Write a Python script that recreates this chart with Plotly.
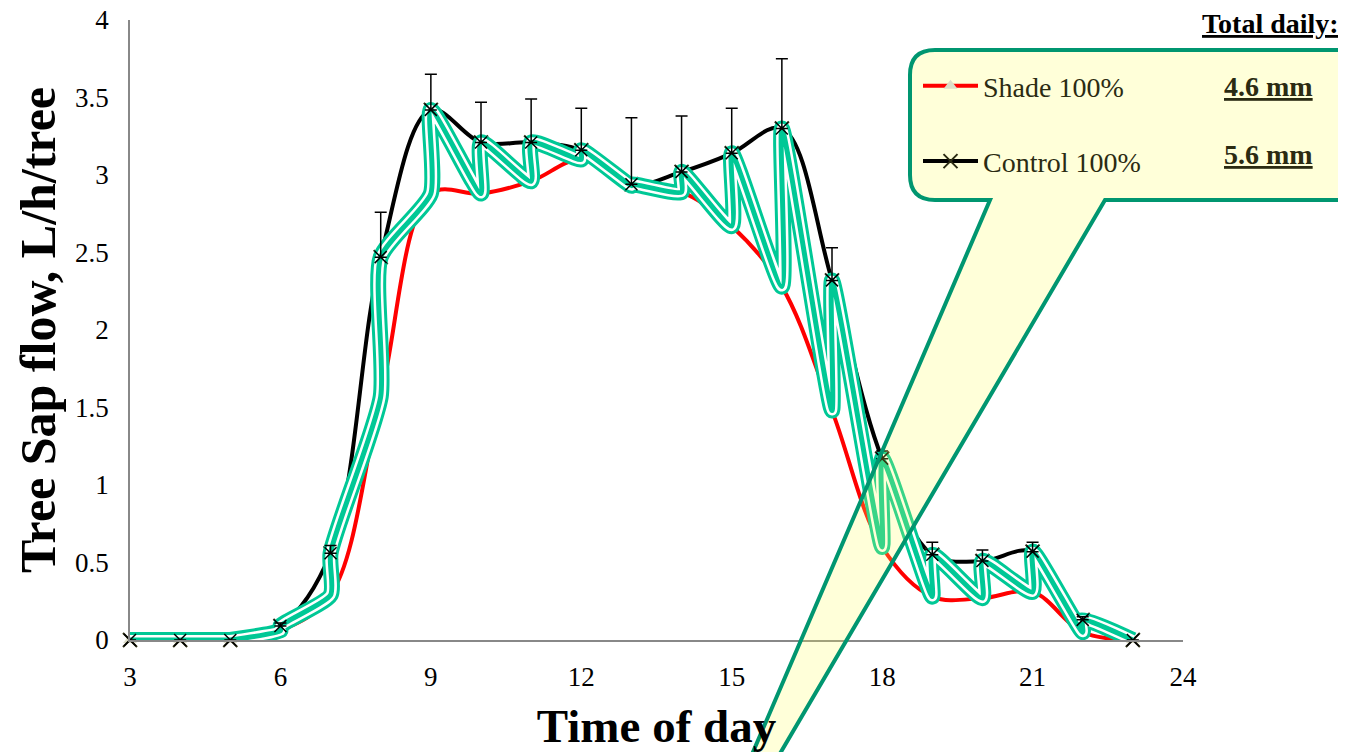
import plotly.graph_objects as go

hours = [3, 4, 5, 6, 7, 8, 9, 10, 11, 12, 13, 14, 15, 16, 17, 18, 19, 20, 21, 22, 23]
shade = [0, 0, 0, 0.06, 0.29, 1.57, 2.88, 2.88, 2.96, 3.10, 2.93, 2.89, 2.67, 2.28, 1.48, 0.60, 0.28, 0.27, 0.31, 0.05, 0]
control = [0, 0, 0, 0.09, 0.56, 2.47, 3.42, 3.21, 3.21, 3.16, 2.94, 3.02, 3.14, 3.30, 2.32, 1.17, 0.55, 0.51, 0.57, 0.13, 0]
control_err = [0, 0, 0, 0.02, 0.05, 0.29, 0.23, 0.26, 0.28, 0.27, 0.43, 0.36, 0.29, 0.45, 0.21, 0.05, 0.08, 0.07, 0.06, 0.02, 0]
x_ticks = [3, 6, 9, 12, 15, 18, 21, 24]
y_ticks = [0, 0.5, 1, 1.5, 2, 2.5, 3, 3.5, 4]
totals = ["4.6 mm", "5.6 mm"]
names = ["Shade 100%", "Control 100%"]

FONT = "Liberation Serif"
TEAL = "#00C896"

# interleaved highlight path (shade then control at every hour)
zig_x, zig_y = [], []
for h, s, c in zip(hours, shade, control):
    zig_x += [h, h]
    zig_y += [s, c]

fig = go.Figure()

fig.add_trace(go.Scatter(x=hours, y=shade, mode="lines+markers", name=names[0],
                         line=dict(color="#FF0000", width=4, shape="spline", smoothing=1),
                         marker=dict(symbol="triangle-up", size=12, color="#DDDDC8"),
                         cliponaxis=False, legendgroup="a"))
fig.add_trace(go.Scatter(x=hours, y=control, mode="lines+markers", name=names[1],
                         line=dict(color="#000000", width=4, shape="spline", smoothing=1),
                         marker=dict(symbol="x-thin", size=14, line=dict(color="#2b2b12", width=2)),
                         cliponaxis=False, legendgroup="b"))

# highlight zigzag
for col, w in [(TEAL, 16), ("#FFFFFF", 10), (TEAL, 5)]:
    fig.add_trace(go.Scatter(x=zig_x, y=zig_y, mode="lines", showlegend=False,
                             line=dict(color=col, width=w, shape="spline", smoothing=0.6),
                             cliponaxis=False, hoverinfo="skip"))

# control markers + error bars on top
fig.add_trace(go.Scatter(x=hours, y=control, mode="markers", showlegend=False,
                         marker=dict(symbol="x-thin", size=12, line=dict(color="#000000", width=1.5)),
                         error_y=dict(type="data", array=control_err, arrayminus=[0]*len(hours),
                                      symmetric=False, color="#000000", thickness=1.5, width=6),
                         cliponaxis=False))

# page body adds an 8px margin; work in screenshot pixels and compensate
OFF = 8
W, H = 1346 - OFF, 752 - OFF
L, T, PW, PH = 130, 20, 1053, 620   # plot area in screenshot pixels
def px(x):
    return (x - L) / PW
def py(y):
    return (T + PH - y) / PH

# callout shape
pts = [("M", 935, 50), ("L", 1420, 50), ("L", 1420, 200), ("L", 1105, 200), ("L", 677, 929),
       ("L", 990, 200), ("L", 935, 200), ("Q", (910, 200), (910, 175)), ("L", 910, 75),
       ("Q", (910, 50), (935, 50))]
path = ""
for p in pts:
    if p[0] == "Q":
        path += f"Q{px(p[1][0]):.5f},{py(p[1][1]):.5f} {px(p[2][0]):.5f},{py(p[2][1]):.5f} "
    else:
        path += f"{p[0]}{px(p[1]):.5f},{py(p[2]):.5f} "
path += "Z"
fig.add_shape(type="path", xref="paper", yref="paper", path=path,
              fillcolor="rgba(255,255,80,0.22)", line=dict(color="#009670", width=4), layer="above")

fig.add_annotation(text="<b><u>Total daily:</u></b>", xref="paper", yref="paper",
                   x=px(1341), y=py(23), xanchor="right", yanchor="middle", showarrow=False,
                   font=dict(family=FONT, size=28, color="#000000"))
for t, yy in zip(totals, [87, 154]):
    fig.add_annotation(text=f"<b><u>{t}</u></b>", xref="paper", yref="paper",
                       x=px(1268), y=py(yy), xanchor="center", yanchor="middle", showarrow=False,
                       font=dict(family=FONT, size=28, color="#2b2b12"))

fig.update_layout(
    width=W, height=H,
    margin=dict(l=L - OFF, r=W - (L - OFF) - PW, t=T - OFF, b=H - (T - OFF) - PH, autoexpand=False),
    paper_bgcolor="white", plot_bgcolor="white",
    font=dict(family=FONT, size=26, color="#000000"),
    legend=dict(x=px(918), y=py(61), xanchor="left", yanchor="top", itemwidth=55,
                bgcolor="rgba(0,0,0,0)", font=dict(family=FONT, size=28, color="#2b2b12"),
                tracegroupgap=36),
    xaxis=dict(range=[3, 24], tickvals=x_ticks, ticktext=[str(v) for v in x_ticks],
               showgrid=False, zeroline=False, showline=True, linecolor="#888888", linewidth=1.5,
               ticks="", ticklabelstandoff=12, tickfont=dict(size=27), automargin=False,
               ticklabeloverflow="allow",
               title=dict(text="<b>Time of day</b>", font=dict(size=47), standoff=24)),
    yaxis=dict(range=[0, 4], tickvals=y_ticks, ticktext=[f"{v:g}" for v in y_ticks],
               showgrid=False, zeroline=False, showline=True, linecolor="#888888", linewidth=1.5,
               ticks="", ticklabelstandoff=14, tickfont=dict(size=27), automargin=False,
               ticklabeloverflow="allow",
               title=dict(text="<b>Tree Sap flow, L/h/tree</b>", font=dict(size=50), standoff=4)),
)

fig.write_html("out.html")
